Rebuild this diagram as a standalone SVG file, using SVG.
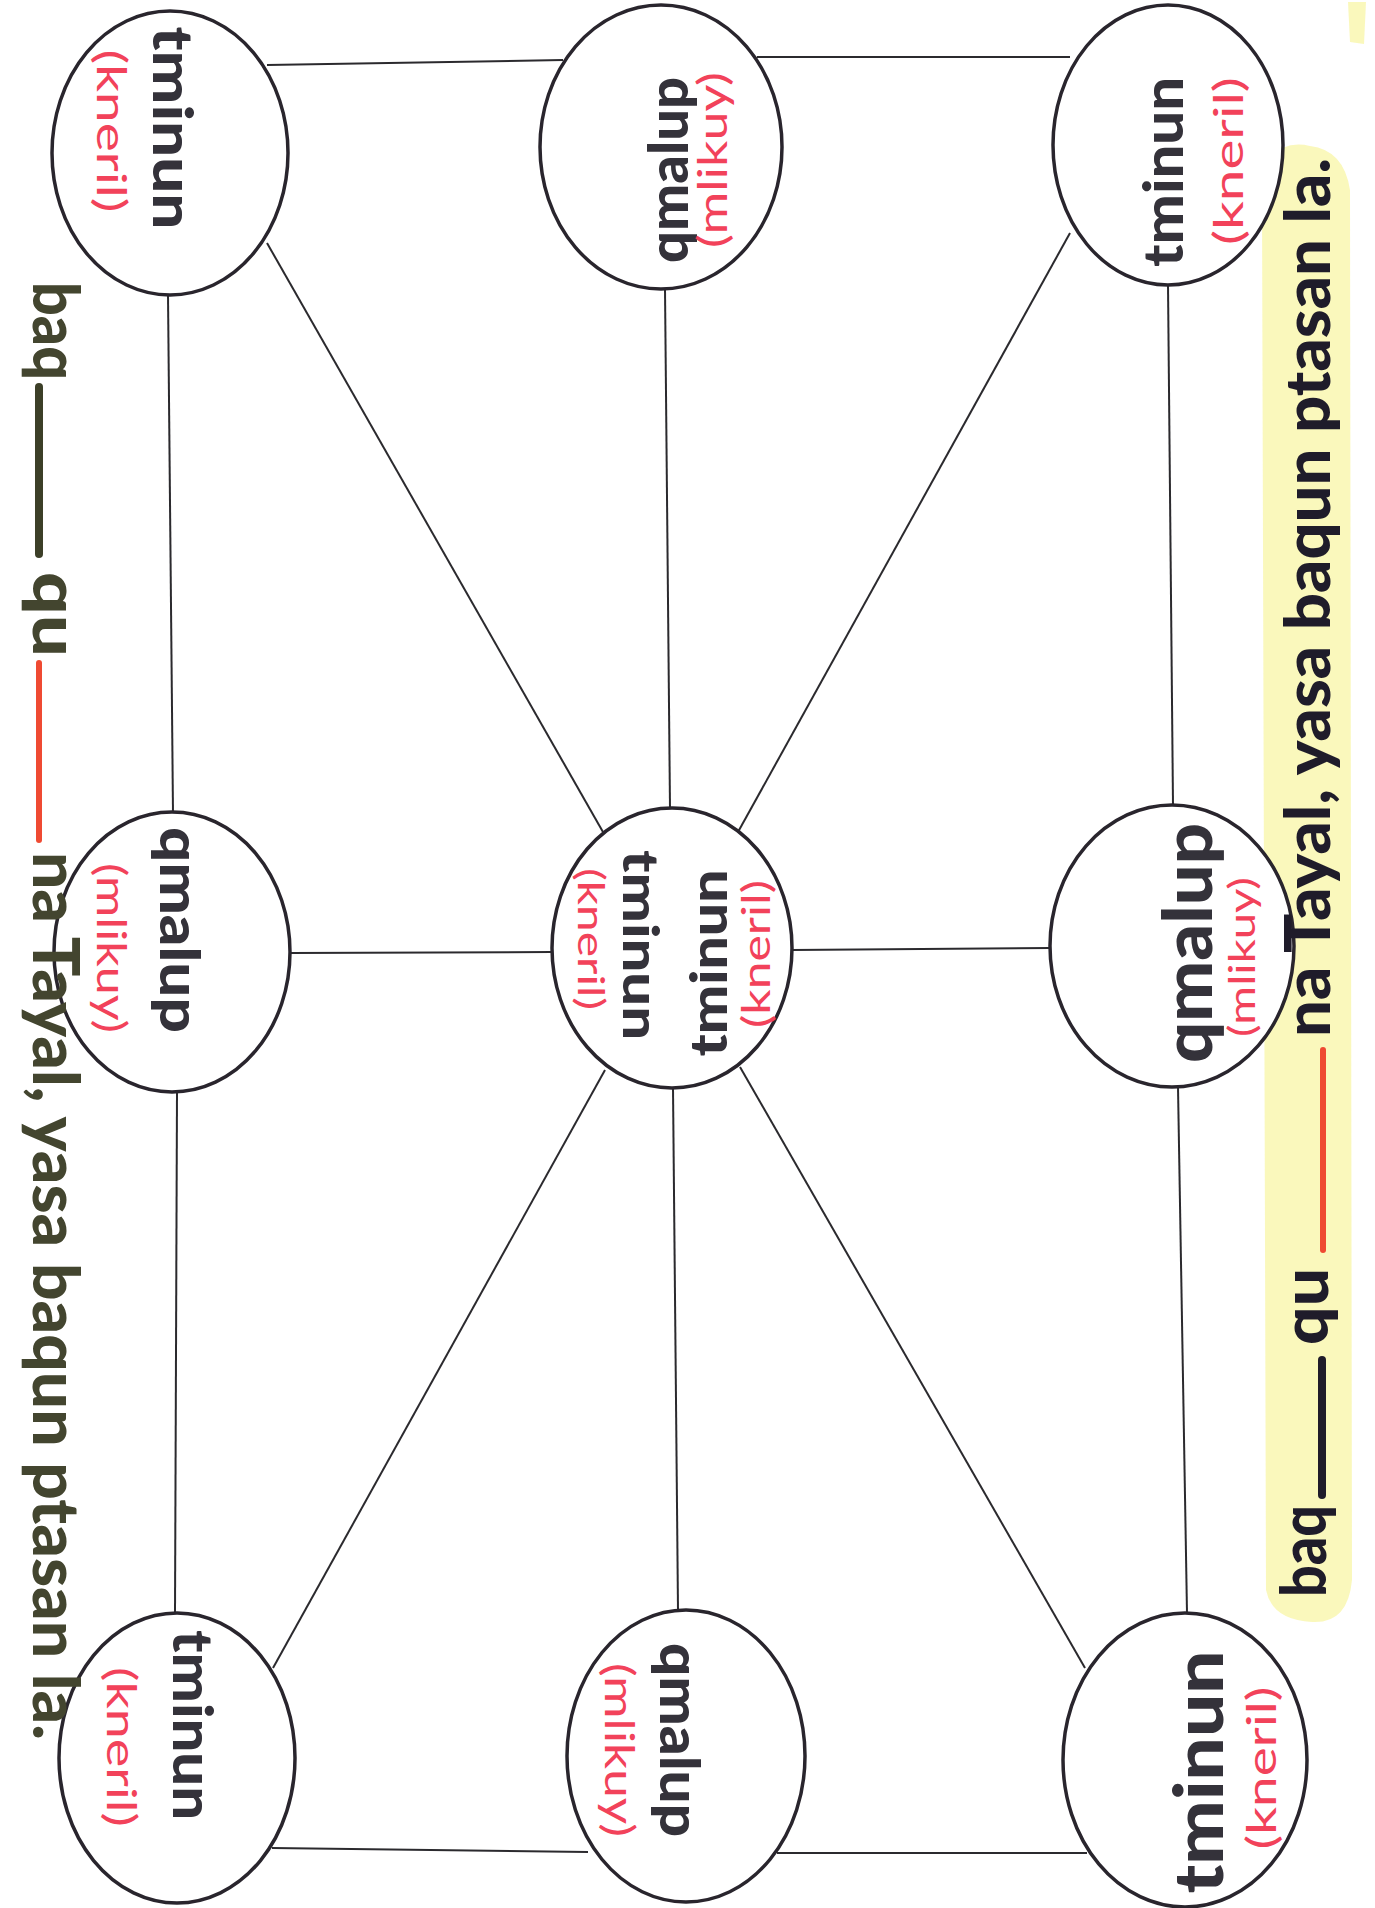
<svg xmlns="http://www.w3.org/2000/svg" width="1375" height="1908" viewBox="0 0 1375 1908">
<style>
.node{fill:#ffffff;stroke:#29252d;stroke-width:3.5}
.edge{stroke:#2b2a2e;stroke-width:2;fill:none}
.blk{font-family:Lato,"Liberation Sans",sans-serif;font-weight:900;fill:#34323a;text-anchor:middle}
.red{font-family:Lato,"Liberation Sans",sans-serif;font-weight:400;fill:#f2425a;text-anchor:middle}
.capL{font-family:Lato,"Liberation Sans",sans-serif;font-weight:900;fill:#43452f;font-size:64px}
.capR{font-family:Lato,"Liberation Sans",sans-serif;font-weight:900;fill:#1f1c2a;font-size:62px}
.dashB{stroke-width:8;stroke-linecap:round}
.dashR{stroke:#ef4a32;stroke-width:6;stroke-linecap:round}
</style>
<rect width="1375" height="1908" fill="#ffffff"/>
<path d="M1268,160 Q1284,140 1310,146 Q1344,150 1350,190 L1352,1580 Q1348,1624 1312,1622 Q1272,1620 1266,1590 L1262,200 Q1262,170 1268,160 Z" fill="#f8f5a6" opacity="0.75"/>
<path d="M1348,2 L1366,2 L1364,44 L1350,42 Z" fill="#f8f5a6" opacity="0.75"/>
<g id="connectors">
<line class="edge" x1="267" y1="65" x2="563" y2="60"/>
<line class="edge" x1="757" y1="57" x2="1070" y2="57"/>
<line class="edge" x1="168" y1="295" x2="173" y2="813"/>
<line class="edge" x1="267" y1="243" x2="603" y2="832"/>
<line class="edge" x1="665" y1="289" x2="670" y2="808"/>
<line class="edge" x1="1070" y1="233" x2="738" y2="832"/>
<line class="edge" x1="1168" y1="285" x2="1173" y2="805"/>
<line class="edge" x1="290" y1="953" x2="552" y2="952"/>
<line class="edge" x1="792" y1="950" x2="1050" y2="948"/>
<line class="edge" x1="177" y1="1092" x2="175" y2="1613"/>
<line class="edge" x1="605" y1="1070" x2="273" y2="1668"/>
<line class="edge" x1="673" y1="1088" x2="678" y2="1610"/>
<line class="edge" x1="740" y1="1067" x2="1085" y2="1668"/>
<line class="edge" x1="1178" y1="1087" x2="1187" y2="1613"/>
<line class="edge" x1="272" y1="1848" x2="588" y2="1852"/>
<line class="edge" x1="777" y1="1853" x2="1087" y2="1853"/>
</g>
<g id="node-tl">
<ellipse class="node" cx="170" cy="153" rx="118" ry="142"/>
<text class="blk" font-size="56" textLength="203" lengthAdjust="spacingAndGlyphs" transform="translate(153,128) rotate(90)">tminun</text>
<text class="red" font-size="40" textLength="163" lengthAdjust="spacingAndGlyphs" transform="translate(97,131) rotate(90)">(kneril)</text>
</g>
<g id="node-tm">
<ellipse class="node" cx="661" cy="147" rx="121" ry="142"/>
<text class="blk" font-size="56" textLength="186" lengthAdjust="spacingAndGlyphs" transform="translate(688,170) rotate(-90)">qmalup</text>
<text class="red" font-size="40" textLength="176" lengthAdjust="spacingAndGlyphs" transform="translate(727,160) rotate(-90)">(mlikuy)</text>
</g>
<g id="node-tr">
<ellipse class="node" cx="1168" cy="145" rx="115" ry="140"/>
<text class="blk" font-size="56" textLength="190" lengthAdjust="spacingAndGlyphs" transform="translate(1183,172) rotate(-90)">tminun</text>
<text class="red" font-size="40" textLength="168" lengthAdjust="spacingAndGlyphs" transform="translate(1243,161) rotate(-90)">(kneril)</text>
</g>
<g id="node-ml">
<ellipse class="node" cx="172" cy="952" rx="118" ry="140"/>
<text class="blk" font-size="56" textLength="206" lengthAdjust="spacingAndGlyphs" transform="translate(160,930) rotate(90)">qmalup</text>
<text class="red" font-size="40" textLength="170" lengthAdjust="spacingAndGlyphs" transform="translate(97,948) rotate(90)">(mlikuy)</text>
</g>
<g id="node-c">
<ellipse class="node" cx="672" cy="948" rx="120" ry="140"/>
<text class="blk" font-size="50" textLength="190" lengthAdjust="spacingAndGlyphs" transform="translate(623,945) rotate(90)">tminun</text>
<text class="red" font-size="37" textLength="142" lengthAdjust="spacingAndGlyphs" transform="translate(578,939) rotate(90)">(kneril)</text>
<text class="blk" font-size="52" textLength="187" lengthAdjust="spacingAndGlyphs" transform="translate(727,963) rotate(-90)">tminun</text>
<text class="red" font-size="38" textLength="148" lengthAdjust="spacingAndGlyphs" transform="translate(770,954) rotate(-90)">(kneril)</text>
</g>
<g id="node-mr">
<ellipse class="node" cx="1172" cy="946" rx="122" ry="141"/>
<text class="blk" font-size="68" textLength="240" lengthAdjust="spacingAndGlyphs" transform="translate(1212,943) rotate(-90)">qmalup</text>
<text class="red" font-size="36" textLength="160" lengthAdjust="spacingAndGlyphs" transform="translate(1255,957) rotate(-90)">(mlikuy)</text>
</g>
<g id="node-bl">
<ellipse class="node" cx="177" cy="1758" rx="118" ry="145"/>
<text class="blk" font-size="56" textLength="190" lengthAdjust="spacingAndGlyphs" transform="translate(173,1725) rotate(90)">tminun</text>
<text class="red" font-size="40" textLength="160" lengthAdjust="spacingAndGlyphs" transform="translate(107,1747) rotate(90)">(kneril)</text>
</g>
<g id="node-bm">
<ellipse class="node" cx="686" cy="1756" rx="119" ry="146"/>
<text class="blk" font-size="56" textLength="194" lengthAdjust="spacingAndGlyphs" transform="translate(660,1740) rotate(90)">qmalup</text>
<text class="red" font-size="40" textLength="174" lengthAdjust="spacingAndGlyphs" transform="translate(605,1750) rotate(90)">(mlikuy)</text>
</g>
<g id="node-br">
<ellipse class="node" cx="1185" cy="1760" rx="122" ry="147"/>
<text class="blk" font-size="68" textLength="243" lengthAdjust="spacingAndGlyphs" transform="translate(1223,1772) rotate(-90)">tminun</text>
<text class="red" font-size="40" textLength="163" lengthAdjust="spacingAndGlyphs" transform="translate(1276,1768) rotate(-90)">(kneril)</text>
</g>
<g id="caption-left">
<text class="capL" textLength="98" lengthAdjust="spacingAndGlyphs" transform="translate(33,282) rotate(90)">baq</text>
<line class="dashB" stroke="#3c3f28" x1="39" y1="387" x2="39" y2="554"/>
<text class="capL" textLength="85" lengthAdjust="spacingAndGlyphs" transform="translate(33,572) rotate(90)">qu</text>
<line class="dashR" x1="39" y1="663" x2="39" y2="840"/>
<text class="capL" textLength="888" lengthAdjust="spacingAndGlyphs" transform="translate(33,852) rotate(90)">na Tayal, yasa baqun ptasan la.</text>
</g>
<g id="caption-right">
<text class="capR" textLength="92" lengthAdjust="spacingAndGlyphs" transform="translate(1326,1597) rotate(-90)">baq</text>
<line class="dashB" stroke="#1f1c2a" x1="1322" y1="1495" x2="1322" y2="1360"/>
<text class="capR" textLength="77" lengthAdjust="spacingAndGlyphs" transform="translate(1328,1345) rotate(-90)">qu</text>
<line class="dashR" x1="1323" y1="1250" x2="1323" y2="1050"/>
<text class="capR" textLength="879" lengthAdjust="spacingAndGlyphs" transform="translate(1330,1037) rotate(-90)">na Tayal, yasa baqun ptasan la.</text>
</g>
</svg>
